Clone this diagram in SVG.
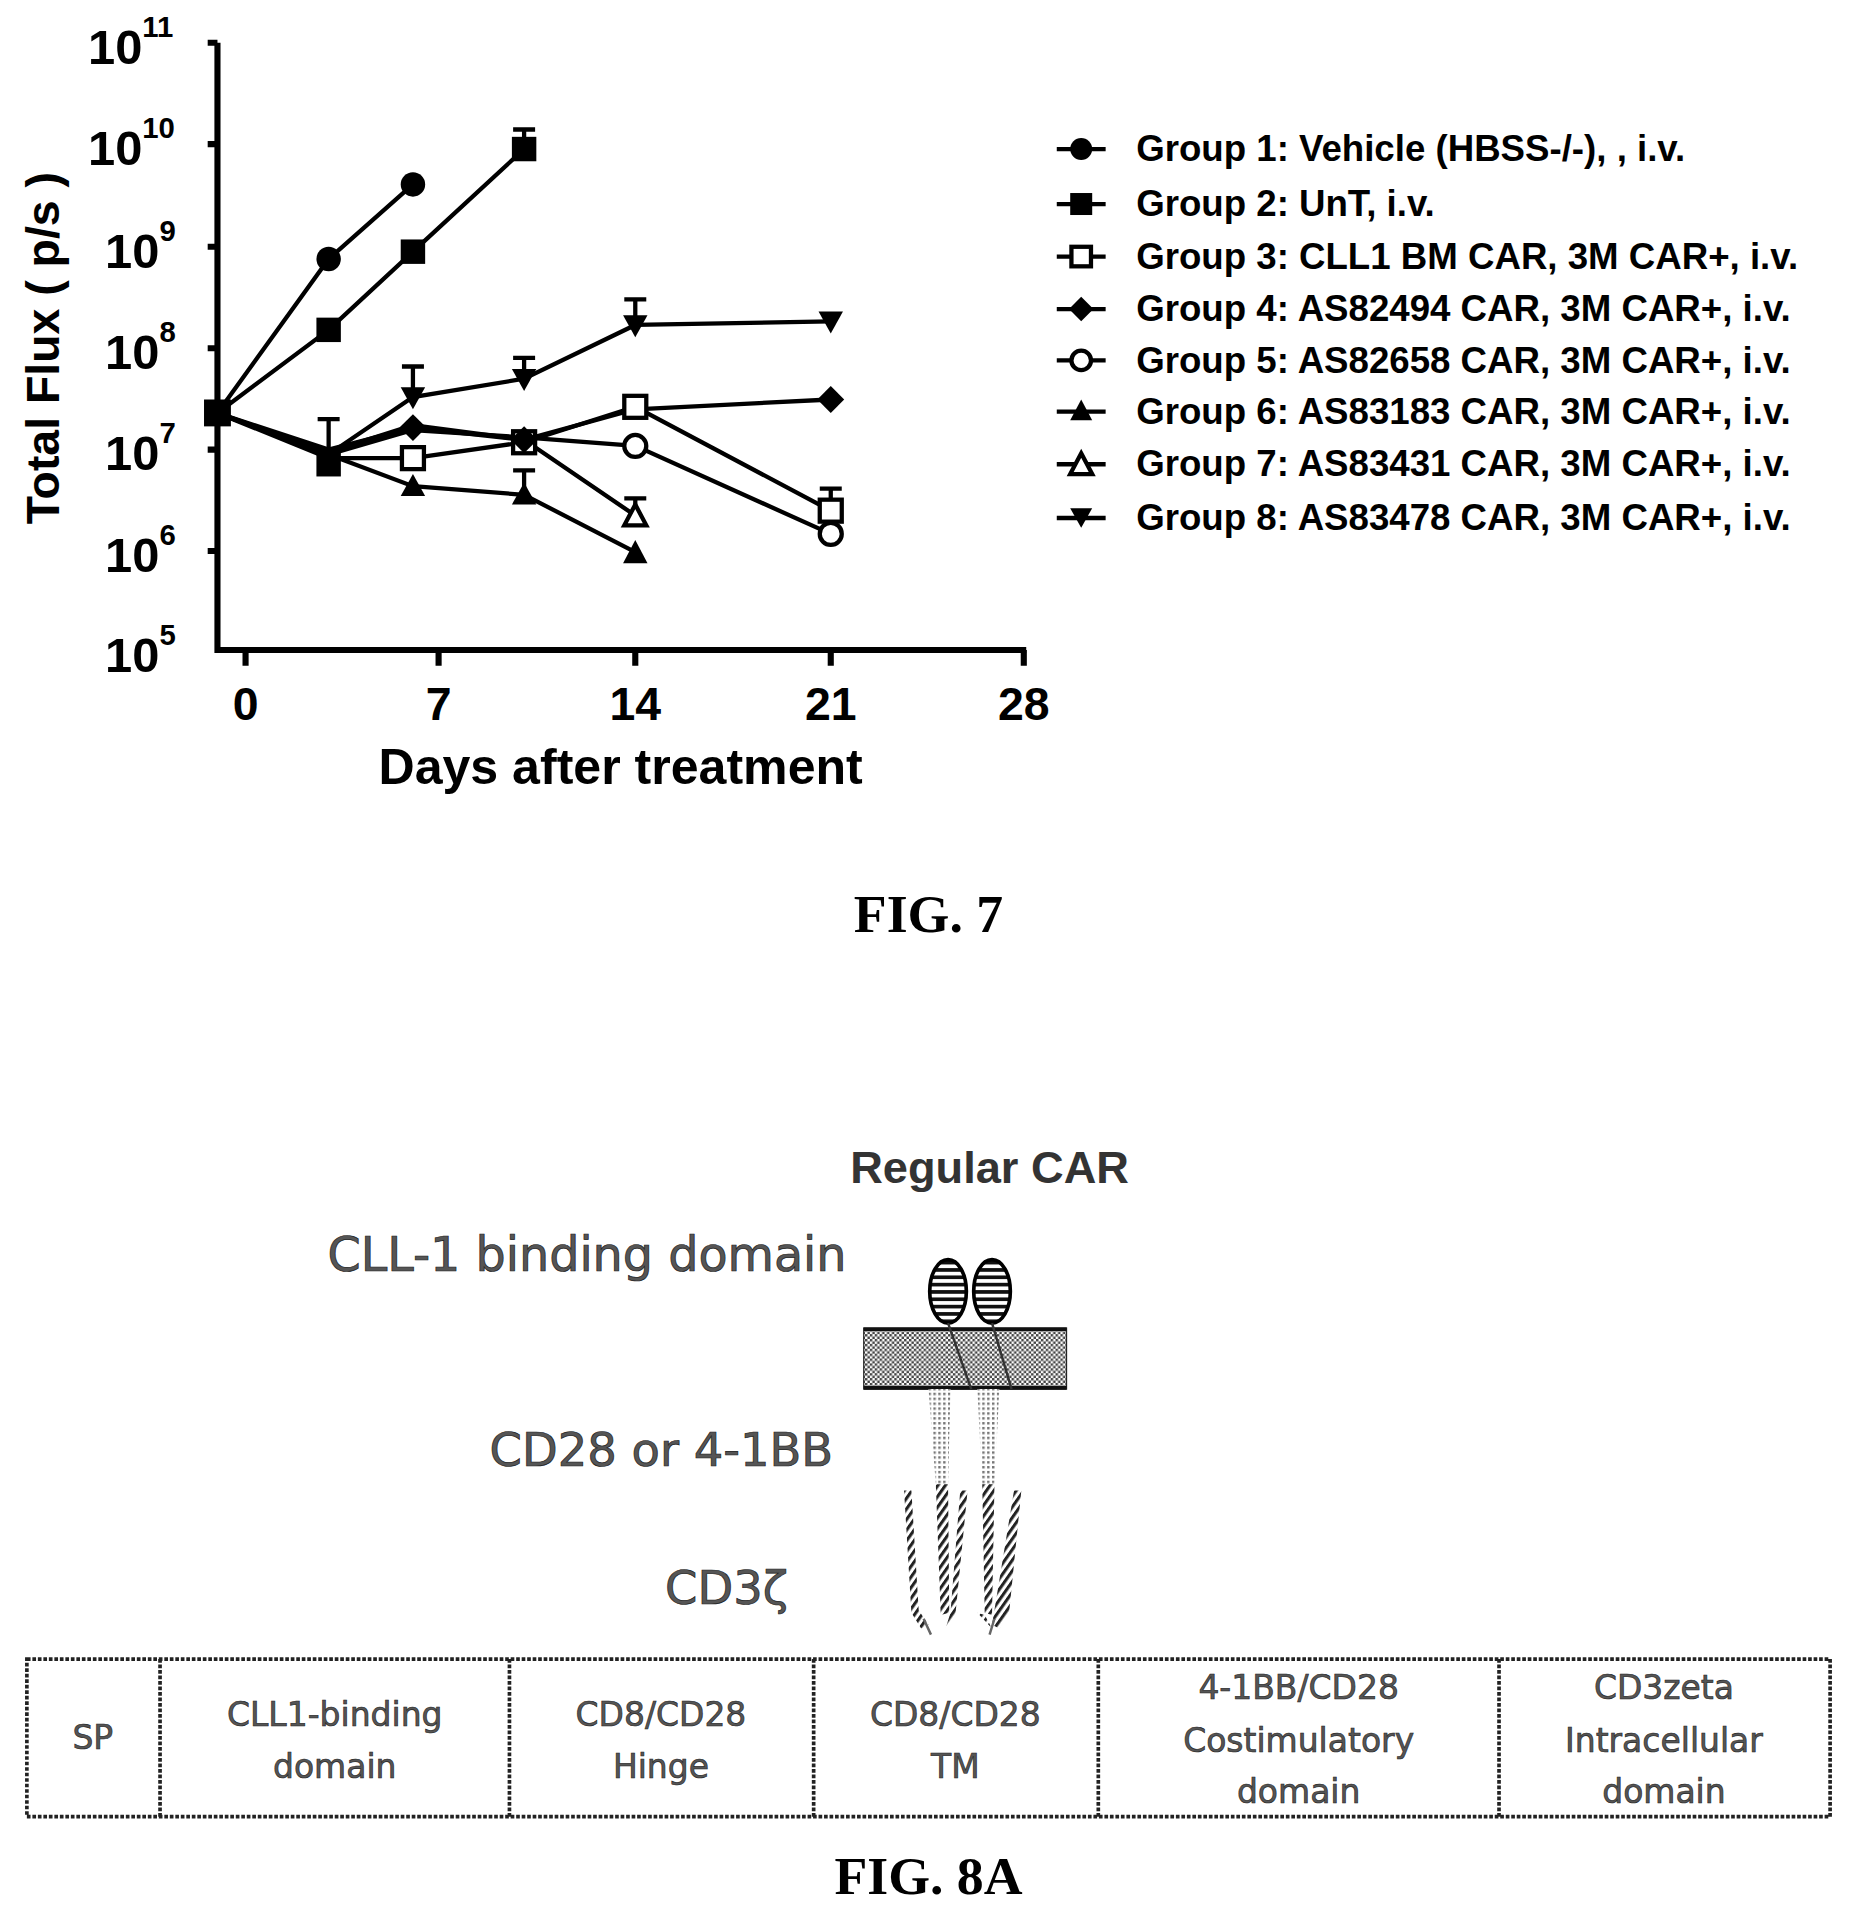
<svg xmlns="http://www.w3.org/2000/svg" width="1857" height="1911" viewBox="0 0 1857 1911">
<style>
.ax{stroke:#000;stroke-width:5;fill:none}
.ln{stroke:#000;stroke-width:3.5;fill:none}
.eb{stroke:#000;stroke-width:3.5;fill:none}
.f{fill:#000}
.o{fill:#fff;stroke:#000;stroke-width:3.5}
.t{font-family:"Liberation Sans",Arial,sans-serif;font-weight:bold;fill:#000}
.fig{font-family:"Liberation Serif","Times New Roman",serif;font-weight:bold;font-size:44px;fill:#000}
.g{font-family:"DejaVu Sans","Liberation Sans",sans-serif;fill:#555;stroke:#222;stroke-width:0.6}
.cell{font-family:"DejaVu Sans","Liberation Sans",sans-serif;font-size:27px;fill:#555;stroke:#222;stroke-width:0.5}
</style>
<defs>
<pattern id="dots" width="4" height="4" patternUnits="userSpaceOnUse"><rect width="4" height="4" fill="#fff"/><rect width="2" height="2" fill="#444"/><rect x="2" y="2" width="2" height="2" fill="#444"/></pattern>
<pattern id="lt" width="4" height="4" patternUnits="userSpaceOnUse"><rect width="4" height="4" fill="#fff"/><rect width="2" height="2" fill="#777"/></pattern>
<pattern id="hat" width="5" height="5" patternUnits="userSpaceOnUse" patternTransform="rotate(35)"><rect width="5" height="5" fill="#fff"/><rect width="2.5" height="5" fill="#222"/></pattern>
<pattern id="str" width="6" height="6" patternUnits="userSpaceOnUse"><rect width="6" height="6" fill="#fff"/><rect width="6" height="3" fill="#111"/></pattern>
</defs>
<g transform="scale(1.2217)">
<g id="axes">
<path class="ax" d="M178 35 V532 H840"/>
<path class="ax" d="M170 35 H178 M170 118 H178 M170 202 H178 M170 285 H178 M170 368 H178 M170 451 H178"/>
<path class="ax" d="M201 532 V545 M359 532 V545 M520 532 V545 M680 532 V545 M838 532 V545"/>
<g class="t" font-size="40">
<text x="72" y="52">10<tspan font-size="24" dy="-22">11</tspan></text>
<text x="72" y="135">10<tspan font-size="24" dy="-22">10</tspan></text>
<text x="86" y="219">10<tspan font-size="24" dy="-22">9</tspan></text>
<text x="86" y="302">10<tspan font-size="24" dy="-22">8</tspan></text>
<text x="86" y="385">10<tspan font-size="24" dy="-22">7</tspan></text>
<text x="86" y="468">10<tspan font-size="24" dy="-22">6</tspan></text>
<text x="86" y="550">10<tspan font-size="24" dy="-22">5</tspan></text>
</g>
<g class="t" font-size="38" text-anchor="middle">
<text x="201" y="589">0</text><text x="359" y="589">7</text><text x="520" y="589">14</text><text x="680" y="589">21</text><text x="838" y="589">28</text>
<text x="508" y="642" font-size="41">Days after treatment</text>
<text transform="translate(48,285) rotate(-90)" font-size="38">Total Flux ( p/s )</text>
</g>
</g>
<g id="series">
<path class="eb" d="M429 122 V106 M420 106 H438 M269 372 V343 M260 343 H278 M338 325 V300 M329 300 H347 M429 310 V293 M420 293 H438 M520 266 V245 M511 245 H529 M680 418 V400 M671 400 H689 M520 422 V408 M511 408 H529 M429 405 V385 M420 385 H438"/>
<polyline class="ln" points="178,338 269,212 338,151"/>
<polyline class="ln" points="178,338 269,270 338,206 429,122"/>
<polyline class="ln" points="178,338 269,375 338,375 429,362 520,333 680,418"/>
<polyline class="ln" points="178,338 269,368 338,350 429,360 520,335 680,327"/>
<polyline class="ln" points="178,338 269,372 338,352 429,358 520,365 680,437"/>
<polyline class="ln" points="178,338 269,372 338,398 429,405 520,452"/>
<polyline class="ln" points="178,338 269,370 338,348 429,360 520,422"/>
<polyline class="ln" points="178,338 269,372 338,325 429,310 520,266 680,263"/>
<rect class="f" x="167" y="327" width="22" height="22"/>
<circle class="f" cx="269" cy="212" r="10"/><circle class="f" cx="338" cy="151" r="10"/>
<g class="f"><rect x="259" y="260" width="20" height="20"/><rect x="328" y="196" width="20" height="20"/><rect x="419" y="112" width="20" height="20"/><rect x="259" y="370" width="20" height="20"/></g>
<g class="o"><rect x="329" y="366" width="18" height="18"/><rect x="420" y="353" width="18" height="18"/><rect x="511" y="324" width="18" height="18"/><rect x="671" y="409" width="18" height="18"/>
<circle cx="520" cy="365" r="9"/><circle cx="680" cy="437" r="9"/>
<path d="M520 413 L529 430 L511 430 Z"/></g>
<g class="f"><path d="M680 316 L691 327 L680 338 L669 327 Z"/><path d="M338 339 L349 350 L338 361 L327 350 Z"/><path d="M429 349 L440 360 L429 371 L418 360 Z"/>
<path d="M338 388 L348 406 L328 406 Z"/><path d="M429 395 L439 413 L419 413 Z"/><path d="M520 442 L530 461 L510 461 Z"/>
<path d="M328 317 L348 317 L338 335 Z"/><path d="M419 302 L439 302 L429 320 Z"/><path d="M510 258 L530 258 L520 276 Z"/><path d="M670 255 L690 255 L680 273 Z"/></g>
</g>
<g id="legend">
<path class="ln" d="M865 122 H905 M865 167 H905 M865 210 H905 M865 253 H905 M865 295 H905 M865 337 H905 M865 380 H905 M865 424 H905"/>
<circle class="f" cx="885" cy="122" r="9"/>
<rect class="f" x="876" y="158" width="18" height="18"/>
<rect class="o" x="877" y="202" width="16" height="16"/>
<path class="f" d="M885 243 L895 253 L885 263 L875 253 Z"/>
<circle class="o" cx="885" cy="295" r="8"/>
<path class="f" d="M885 327 L894 344 L876 344 Z"/>
<path class="o" d="M885 371 L894 388 L876 388 Z"/>
<path class="f" d="M876 416 L894 416 L885 432 Z"/>
<g class="t" font-size="30">
<text x="930" y="132">Group 1: Vehicle (HBSS-/-), , i.v.</text>
<text x="930" y="177">Group 2: UnT, i.v.</text>
<text x="930" y="220">Group 3: CLL1 BM CAR, 3M CAR+, i.v.</text>
<text x="930" y="263">Group 4: AS82494 CAR, 3M CAR+, i.v.</text>
<text x="930" y="305">Group 5: AS82658 CAR, 3M CAR+, i.v.</text>
<text x="930" y="347">Group 6: AS83183 CAR, 3M CAR+, i.v.</text>
<text x="930" y="390">Group 7: AS83431 CAR, 3M CAR+, i.v.</text>
<text x="930" y="434">Group 8: AS83478 CAR, 3M CAR+, i.v.</text>
</g>
</g>
<text class="fig" x="760" y="763" text-anchor="middle">FIG. 7</text>
<g id="car">
<text x="810" y="968" text-anchor="middle" font-family="Liberation Sans,Arial,sans-serif" font-weight="bold" font-size="37" fill="#333">Regular CAR</text>
<text class="g" x="268" y="1040" font-size="39">CLL-1 binding domain</text>
<text class="g" x="682" y="1200" font-size="38" text-anchor="end">CD28 or 4-1BB</text>
<text class="g" x="645" y="1313" font-size="38" text-anchor="end">CD3ζ</text>
<rect x="707" y="1087" width="166" height="50" fill="url(#dots)" stroke="#222" stroke-width="1"/>
<path d="M707 1088 H873 M707 1136 H873" stroke="#111" stroke-width="3"/>
<ellipse cx="776" cy="1057" rx="15" ry="26" fill="url(#str)" stroke="#000" stroke-width="3"/>
<ellipse cx="812" cy="1057" rx="15" ry="26" fill="url(#str)" stroke="#000" stroke-width="3"/>
<path d="M776 1083 L795 1137 M812 1083 L828 1137" stroke="#333" stroke-width="2"/>
<path d="M760 1137 H778 L776 1215 H766 Z M800 1137 H818 L814 1215 H804 Z" fill="url(#lt)"/>
<path d="M766 1215 L776 1215 L777 1320 L770 1322 Z M804 1215 L814 1215 L812 1322 L806 1320 Z" fill="url(#hat)"/>
<path d="M740 1220 L746 1220 L752 1318 L760 1330 L754 1333 L746 1320 Z M778 1320 L786 1220 L792 1220 L782 1322 L774 1333 Z M830 1220 L836 1220 L826 1320 L818 1333 L812 1330 Z M800 1320 L806 1322 L812 1333 Z" fill="url(#hat)"/>
<path d="M756 1325 L762 1338 M814 1325 L810 1338" stroke="#666" stroke-width="2"/>
</g>
<g id="table">
<rect x="22" y="1358" width="1476" height="129" fill="none" stroke="#222" stroke-width="3" stroke-dasharray="3 1.5"/>
<path d="M131 1358 V1487 M417 1358 V1487 M666 1358 V1487 M899 1358 V1487 M1227 1358 V1487" stroke="#222" stroke-width="3" stroke-dasharray="3 1.5"/>
<g class="cell" text-anchor="middle">
<text x="76" y="1432">SP</text>
<text x="274" y="1413">CLL1-binding</text><text x="274" y="1455">domain</text>
<text x="541" y="1413">CD8/CD28</text><text x="541" y="1455">Hinge</text>
<text x="782" y="1413">CD8/CD28</text><text x="782" y="1455">TM</text>
<text x="1063" y="1391">4-1BB/CD28</text><text x="1063" y="1434">Costimulatory</text><text x="1063" y="1476">domain</text>
<text x="1362" y="1391">CD3zeta</text><text x="1362" y="1434">Intracellular</text><text x="1362" y="1476">domain</text>
</g>
</g>
<text class="fig" x="760" y="1550" text-anchor="middle">FIG. 8A</text>
</g>
</svg>
